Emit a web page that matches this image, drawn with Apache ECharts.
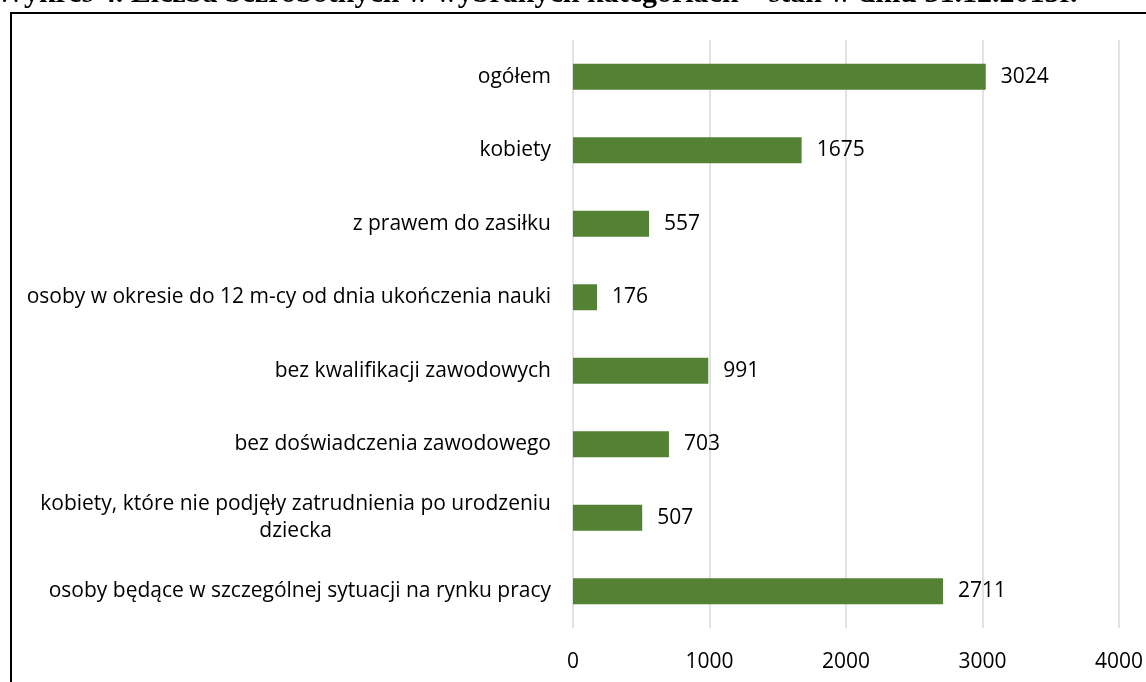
<!DOCTYPE html>
<html><head><meta charset="utf-8">
<script src="https://cdn.jsdelivr.net/npm/echarts@6/dist/echarts.min.js"></script>
<style>html,body{margin:0;padding:0;background:#fff}#c{width:1146px;height:682px}</style>
</head><body><div id="c"></div>
<script>
const titleText = 'Wykres 4. Liczba bezrobotnych w wybranych kategoriach – stan w dniu 31.12.2015r.';
const categories = [
  'ogółem',
  'kobiety',
  'z prawem do zasiłku',
  'osoby w okresie do 12 m-cy od dnia ukończenia nauki',
  'bez kwalifikacji zawodowych',
  'bez doświadczenia zawodowego',
  'kobiety, które nie podjęły zatrudnienia po urodzeniu\ndziecka',
  'osoby będące w szczególnej sytuacji na rynku pracy'
];
const values = [3024, 1675, 557, 176, 991, 703, 507, 2711];
const xTicks = [0, 1000, 2000, 3000, 4000];

const FONT = 'Open Sans';
const FS = 21;
const chart = echarts.init(document.getElementById('c'));
chart.setOption({
  animation: false,
  backgroundColor: '#fff',
  title: {
    text: titleText, left: -5, top: -21, padding: 0,
    textStyle: {fontFamily: 'Liberation Serif', fontWeight: 'bold', fontSize: 30, color: '#000'}
  },
  graphic: [{
    type: 'rect', shape: {x: 11, y: 13, width: 1200, height: 720},
    style: {fill: 'none', stroke: '#000', lineWidth: 2}, z: 0
  }],
  grid: {left: 573, right: 27, top: 40, bottom: 54, containLabel: false},
  xAxis: {
    type: 'value', min: xTicks[0], max: xTicks[xTicks.length - 1], interval: 1000,
    axisLine: {show: false}, axisTick: {show: false},
    splitLine: {lineStyle: {color: '#d9d9d9', width: 1.5}},
    axisLabel: {margin: 24, fontFamily: FONT, fontSize: FS, color: '#000', formatter: v => String(v)}
  },
  yAxis: {
    type: 'category', data: categories, inverse: true,
    axisLine: {show: false}, axisTick: {show: false},
    axisLabel: {
      margin: 22, fontFamily: FONT, fontSize: FS, color: '#000', lineHeight: 27,
      formatter: v => v.split('\n').map(s => '{c|' + s + '}').join('\n'),
      rich: {c: {align: 'center', fontFamily: FONT, fontSize: FS, color: '#000', lineHeight: 27}}
    }
  },
  series: [{
    type: 'bar', data: values, barWidth: 26,
    itemStyle: {color: '#548235'},
    label: {show: true, position: 'right', distance: 15, fontFamily: FONT, fontSize: FS, color: '#000'}
  }]
});
</script></body></html>
